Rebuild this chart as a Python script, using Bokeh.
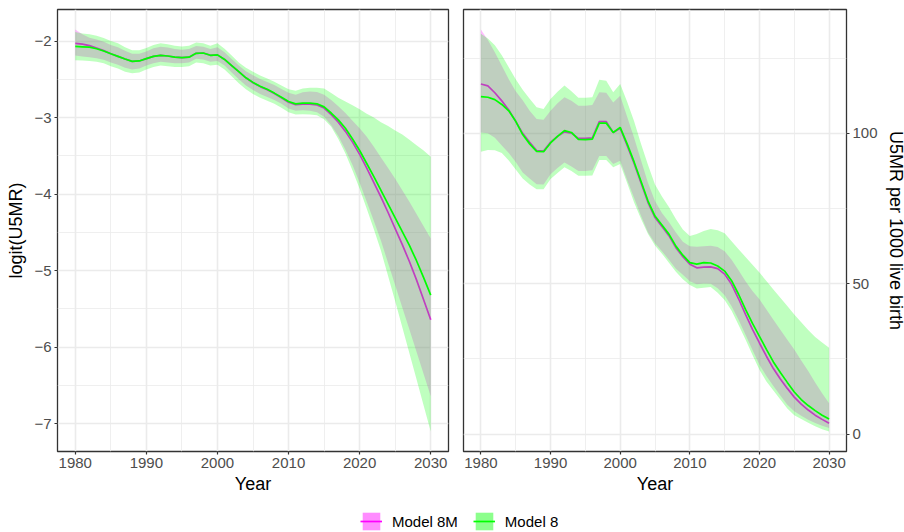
from bokeh.plotting import figure
from bokeh.layouts import column, row
from bokeh.models import (ColumnDataSource, Range1d, FixedTicker, Legend,
                          LegendItem)
from bokeh.embed import file_html
from bokeh.resources import INLINE

# ---------------------------------------------------------------- data
years = list(range(1980, 2031))

# logit(U5MR): Model 8 (median and interval)
logit_m8 = [
    -2.07, -2.075, -2.08, -2.10, -2.13, -2.165, -2.20, -2.235, -2.265, -2.26,
    -2.23, -2.20, -2.186, -2.195, -2.21, -2.217, -2.21, -2.16, -2.156, -2.186,
    -2.18, -2.24, -2.32, -2.40, -2.48, -2.54, -2.59, -2.63, -2.68, -2.735,
    -2.79, -2.82, -2.81, -2.81, -2.82, -2.86, -2.94, -3.03, -3.14, -3.28,
    -3.43, -3.60, -3.77, -3.95, -4.13, -4.31, -4.49, -4.67, -4.87, -5.09,
    -5.32]
logit_m8_hi = [
    -1.88, -1.90, -1.91, -1.93, -1.96, -2.00, -2.03, -2.08, -2.12, -2.12,
    -2.09, -2.05, -2.03, -2.04, -2.06, -2.07, -2.06, -2.02, -2.03, -2.06,
    -2.03, -2.10, -2.19, -2.28, -2.35, -2.40, -2.45, -2.49, -2.53, -2.58,
    -2.63, -2.65, -2.62, -2.61, -2.61, -2.62, -2.68, -2.74, -2.79, -2.84,
    -2.89, -2.95, -3.00, -3.06, -3.11, -3.17, -3.22, -3.29, -3.36, -3.43,
    -3.51]
logit_m8_lo = [
    -2.25, -2.255, -2.26, -2.27, -2.29, -2.33, -2.36, -2.40, -2.42, -2.41,
    -2.37, -2.34, -2.32, -2.33, -2.34, -2.34, -2.33, -2.28, -2.29, -2.32,
    -2.31, -2.37, -2.46, -2.55, -2.63, -2.69, -2.74, -2.78, -2.82, -2.87,
    -2.93, -2.96, -2.955, -2.96, -2.97, -3.02, -3.12, -3.28, -3.47, -3.69,
    -3.93, -4.19, -4.46, -4.74, -5.07, -5.40, -5.74, -6.08, -6.42, -6.76,
    -7.10]

# logit(U5MR): Model 8M (median and interval)
logit_m8m = [
    -2.03, -2.04, -2.06, -2.09, -2.125, -2.165, -2.20, -2.235, -2.265, -2.26,
    -2.23, -2.20, -2.186, -2.195, -2.21, -2.217, -2.21, -2.16, -2.156, -2.186,
    -2.18, -2.24, -2.32, -2.40, -2.48, -2.545, -2.595, -2.635, -2.685, -2.74,
    -2.80, -2.83, -2.825, -2.825, -2.835, -2.875, -2.96, -3.06, -3.18, -3.32,
    -3.48, -3.66, -3.85, -4.04, -4.24, -4.45, -4.66, -4.88, -5.12, -5.38,
    -5.64]
logit_m8m_hi = [
    -1.85, -1.91, -1.955, -1.98, -2.01, -2.05, -2.08, -2.125, -2.165, -2.165,
    -2.135, -2.095, -2.075, -2.085, -2.105, -2.115, -2.105, -2.065, -2.075, -2.105,
    -2.08, -2.145, -2.235, -2.32, -2.395, -2.445, -2.495, -2.535, -2.575, -2.625,
    -2.675, -2.70, -2.67, -2.66, -2.665, -2.70, -2.77, -2.85, -2.94, -3.04,
    -3.14, -3.25, -3.38, -3.52, -3.66, -3.80, -3.95, -4.10, -4.26, -4.42,
    -4.58]
logit_m8m_lo = [
    -2.19, -2.20, -2.21, -2.225, -2.245, -2.28, -2.31, -2.35, -2.37, -2.36,
    -2.32, -2.29, -2.27, -2.28, -2.29, -2.29, -2.28, -2.23, -2.24, -2.27,
    -2.26, -2.32, -2.41, -2.50, -2.58, -2.64, -2.69, -2.73, -2.77, -2.82,
    -2.88, -2.91, -2.905, -2.91, -2.93, -2.99, -3.10, -3.24, -3.42, -3.62,
    -3.85, -4.10, -4.35, -4.61, -4.90, -5.19, -5.48, -5.77, -6.06, -6.35,
    -6.64]

# U5MR per 1000 live births: Model 8
u5mr_m8 = [
    112.2, 112.0, 111.2, 109.6, 107.5, 104.0, 99.6, 96.5, 94.0, 93.9,
    96.8, 99.0, 100.9, 100.3, 98.0, 97.9, 98.1, 103.4, 103.4, 100.3,
    102.0, 96.5, 90.5, 84.0, 77.5, 72.5, 69.5, 66.5, 62.5, 59.5,
    57.0, 56.5, 57.0, 56.9, 55.9, 54.2, 51.0, 46.5, 41.5, 36.8,
    32.5, 28.2, 24.0, 20.5, 17.2, 14.0, 11.5, 9.5, 7.8, 6.3,
    5.0]
u5mr_m8_hi = [
    133.1, 131.5, 129.3, 126.0, 122.0, 118.0, 114.5, 111.5, 108.7, 108.1,
    111.4, 113.8, 115.9, 114.0, 111.8, 111.8, 112.0, 117.8, 117.5, 113.7,
    116.4, 110.5, 104.0, 96.5, 89.5, 83.0, 79.0, 75.5, 71.5, 68.0,
    65.9, 66.5, 67.5, 68.2, 67.8, 66.8, 64.1, 61.5, 58.9, 56.3,
    53.7, 50.9, 48.1, 45.3, 42.6, 39.8, 37.2, 34.6, 32.3, 30.5,
    28.7]
u5mr_m8_lo = [
    93.9, 94.5, 94.4, 93.5, 91.0, 88.0, 85.0, 83.0, 81.4, 81.4,
    84.8, 86.8, 88.7, 87.5, 85.9, 85.9, 86.0, 91.1, 91.1, 88.7,
    89.8, 83.5, 77.0, 71.5, 66.5, 62.7, 60.0, 57.0, 54.0, 51.5,
    49.6, 48.4, 48.7, 48.9, 47.0, 44.6, 41.0, 36.3, 31.5, 26.3,
    21.4, 17.5, 14.5, 11.5, 8.5, 6.3, 5.0, 3.8, 2.6, 1.6,
    0.9]

# U5MR per 1000 live births: Model 8M
u5mr_m8m = [
    116.4, 115.8, 113.5, 110.8, 107.8, 104.0, 100.0, 97.0, 94.3, 94.1,
    97.0, 99.0, 100.5, 100.1, 98.3, 98.3, 98.5, 103.9, 103.9, 100.3,
    101.7, 96.0, 90.0, 83.5, 77.0, 72.0, 69.0, 66.0, 62.0, 59.0,
    56.5, 55.3, 55.5, 55.6, 55.0, 53.2, 49.8, 45.0, 39.8, 34.8,
    30.3, 25.9, 21.8, 18.3, 15.2, 12.3, 10.0, 8.0, 6.3, 4.9,
    3.6]
u5mr_m8m_hi = [
    134.5, 131.0, 127.0, 122.5, 118.0, 114.0, 111.0, 107.5, 104.8, 104.5,
    107.5, 110.0, 112.0, 110.8, 109.2, 109.2, 109.4, 113.7, 113.5, 110.3,
    112.5, 105.5, 98.5, 91.0, 83.5, 77.5, 73.5, 70.5, 67.0, 64.0,
    62.5, 62.3, 62.5, 62.6, 62.2, 60.8, 58.0, 54.5, 50.8, 47.6,
    44.8, 41.4, 38.0, 34.7, 31.4, 28.1, 24.5, 21.0, 17.2, 13.6,
    10.3]
u5mr_m8m_lo = [
    100.3, 100.0, 98.5, 96.0, 93.5, 90.5, 87.0, 85.0, 83.1, 83.0,
    86.4, 88.5, 90.3, 89.0, 87.5, 87.5, 87.7, 92.5, 92.5, 89.8,
    90.9, 84.5, 78.5, 72.5, 67.0, 63.5, 60.8, 58.0, 55.0, 53.0,
    50.8, 49.8, 50.1, 50.0, 48.5, 46.2, 42.5, 38.0, 33.0, 28.0,
    23.1, 19.3, 16.0, 12.8, 9.8, 7.6, 6.1, 4.8, 3.7, 2.8,
    2.0]

series_labels = ["Model 8M", "Model 8"]
x_ticks = [1980, 1990, 2000, 2010, 2020, 2030]
logit_ticks = [-7, -6, -5, -4, -3, -2]
u5mr_ticks = [0, 50, 100]

# ---------------------------------------------------------------- style
FONT = "Liberation Sans"
MAGENTA = "#FF00FF"
GREEN = "#00FF00"
GRID = "#EBEBEB"
DARK = "#333333"


def padded(lo, hi, frac=0.05):
    span = hi - lo
    return Range1d(lo - frac * span, hi + frac * span)


def style_axis(ax, ticker, label, standoff):
    ax.ticker = ticker
    ax.axis_label = label
    ax.axis_label_text_font = FONT
    ax.axis_label_text_font_size = "18px"
    ax.axis_label_text_font_style = "normal"
    ax.axis_label_text_color = "black"
    ax.axis_label_standoff = standoff
    ax.major_label_text_font = FONT
    ax.major_label_text_font_size = "15px"
    ax.major_label_text_color = "#4D4D4D"
    ax.major_label_standoff = 2
    ax.axis_line_color = None
    ax.major_tick_line_color = DARK
    ax.major_tick_line_width = 1.2
    ax.major_tick_in = 0
    ax.major_tick_out = 3
    ax.minor_tick_line_color = None


def style_grid(grid, ticker):
    grid.ticker = ticker
    grid.grid_line_color = GRID
    grid.grid_line_width = 1.6
    grid.minor_grid_line_color = GRID
    grid.minor_grid_line_width = 0.8


def make_panel(src, cols, yr, yticks, yminor, ylabel, side, borders):
    p = figure(frame_width=borders["fw"], frame_height=442,
               x_range=Range1d(1977.5, 2032.5), y_range=yr,
               y_axis_location=side, toolbar_location=None,
               output_backend="svg",
               min_border_left=borders["l"], min_border_right=borders["r"],
               min_border_top=9, min_border_bottom=48)
    p.outline_line_color = DARK
    p.outline_line_width = 1.3
    p.background_fill_color = "white"
    p.border_fill_color = "white"

    m8m, m8m_lo, m8m_hi, m8, m8_lo, m8_hi = cols
    p.varea(x="year", y1=m8m_lo, y2=m8m_hi, source=src,
            fill_color=MAGENTA, fill_alpha=0.25)
    p.line(x="year", y=m8m, source=src, line_color=MAGENTA, line_width=1.7)
    p.varea(x="year", y1=m8_lo, y2=m8_hi, source=src,
            fill_color=GREEN, fill_alpha=0.25)
    p.line(x="year", y=m8, source=src, line_color=GREEN, line_width=1.7)

    xt = FixedTicker(ticks=x_ticks, minor_ticks=[1985, 1995, 2005, 2015, 2025])
    yt = FixedTicker(ticks=yticks, minor_ticks=yminor)
    style_axis(p.xaxis[0], xt, "Year", 3)
    style_axis(p.yaxis[0], yt, ylabel, 5)
    style_grid(p.xgrid[0], xt)
    style_grid(p.ygrid[0], yt)
    return p


src_logit = ColumnDataSource(dict(
    year=years, m8=logit_m8, m8_lo=logit_m8_lo, m8_hi=logit_m8_hi,
    m8m=logit_m8m, m8m_lo=logit_m8m_lo, m8m_hi=logit_m8m_hi))
src_u5mr = ColumnDataSource(dict(
    year=years, m8=u5mr_m8, m8_lo=u5mr_m8_lo, m8_hi=u5mr_m8_hi,
    m8m=u5mr_m8m, m8m_lo=u5mr_m8m_lo, m8m_hi=u5mr_m8m_hi))
cols = ("m8m", "m8m_lo", "m8m_hi", "m8", "m8_lo", "m8_hi")

all_logit = logit_m8_lo + logit_m8_hi + logit_m8m_lo + logit_m8m_hi
all_u5mr = u5mr_m8_lo + u5mr_m8_hi + u5mr_m8m_lo + u5mr_m8m_hi

p1 = make_panel(src_logit, cols, padded(min(all_logit), max(all_logit)),
                logit_ticks, [-6.5, -5.5, -4.5, -3.5, -2.5], "logit(U5MR)",
                "left", dict(fw=391, l=57, r=7))
p1.yaxis[0].major_label_overrides = {t: "\u2212" + str(abs(t)) for t in logit_ticks}

p2 = make_panel(src_u5mr, cols, padded(min(all_u5mr), max(all_u5mr)),
                u5mr_ticks, [25, 75, 125], "U5MR per 1000 live birth",
                "right", dict(fw=383, l=8, r=58))

# ---------------------------------------------------------------- legend
# Key renderers sit outside the visible range; only their legend swatches show.
p3 = figure(width=904, height=33, x_range=Range1d(0, 1), y_range=Range1d(0, 1),
            x_axis_type=None, y_axis_type=None, toolbar_location=None,
            output_backend="svg", min_border=0)
p3.outline_line_color = None
p3.grid.visible = False
off = dict(x=[5, 6], y1=[5, 5], y2=[6, 6])
key_m8m = p3.varea(x=off["x"], y1=off["y1"], y2=off["y2"],
                   fill_color=MAGENTA, fill_alpha=0.45)
line_m8m = p3.line(x=off["x"], y=off["y1"], line_color=MAGENTA, line_width=1.7)
key_m8 = p3.varea(x=off["x"], y1=off["y1"], y2=off["y2"],
                  fill_color=GREEN, fill_alpha=0.45)
line_m8 = p3.line(x=off["x"], y=off["y1"], line_color=GREEN, line_width=1.7)
legend = Legend(
    items=[LegendItem(label=series_labels[0], renderers=[key_m8m, line_m8m]),
           LegendItem(label=series_labels[1], renderers=[key_m8, line_m8])],
    orientation="horizontal", location=(360, 0),
    glyph_width=22, glyph_height=22, label_height=22, label_standoff=10,
    spacing=15, padding=0, margin=0,
    label_text_font=FONT, label_text_font_size="15px",
    label_text_color="black", border_line_color=None,
    background_fill_alpha=0)
p3.add_layout(legend)

layout = column(row(p1, p2), p3)
open("out.html", "w").write(file_html(layout, INLINE))
